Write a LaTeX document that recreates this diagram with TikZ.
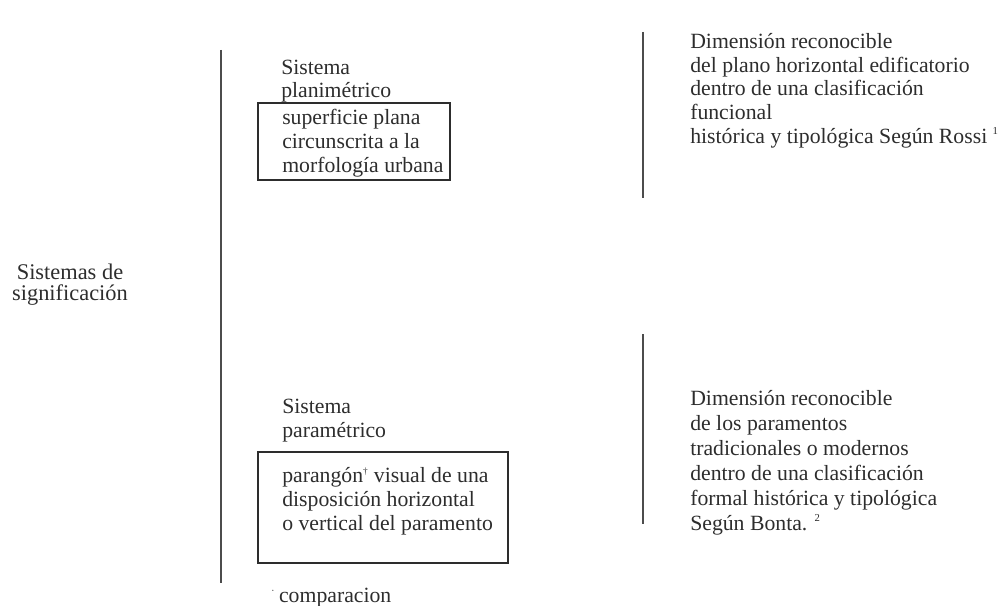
\documentclass[tikz,border=0pt]{standalone}
\usepackage{fontspec}
\setmainfont{Liberation Serif}
\usetikzlibrary{positioning}

\definecolor{ink}{RGB}{45,45,45}
\tikzset{
  txt/.style={anchor=base west, inner sep=0pt, align=left, text=ink,
    font=\fontsize{16.3}{17.7}\selectfont},
  caja/.style={draw=ink, line width=0.9pt},
  raya/.style={draw=ink!85, line width=1.6pt}
}

\begin{document}
\begin{tikzpicture}[x=0.75pt, y=-0.75pt]
    % lienzo
    \useasboundingbox (0,0) rectangle (1002,606);

    % extremos de las rayas verticales
    \coordinate (L1) at (221,50);
    \coordinate (L2) at (221,583);
    \coordinate (R1) at (643,32);
    \coordinate (R2) at (643,198);
    \coordinate (S1) at (643,334);
    \coordinate (S2) at (643,524);

    % rayas
    \draw[raya] (L1) -- (L2);
    \draw[raya] (R1) -- (R2);
    \draw[raya] (S1) -- (S2);

    % titulo de la izquierda (anclado en la ultima linea)
    \node[txt, align=center, anchor=base, font=\fontsize{16.8}{15.5}\selectfont] (titulo) at (70,300) {Sistemas de\\significación};

    % === sistema planimetrico ===
    \node[txt] (plani) at (281,98) {Sistema\\planimétrico};
    \draw[caja] (258,103) rectangle (450,180);
    \node[txt] (planitxt) at (282,172) {superficie plana\\circunscrita a la\\morfología urbana};

    \node[txt] (rossi) at (690,143) {Dimensión reconocible\\del plano horizontal edificatorio\\dentro de una clasificación\\funcional\\histórica y tipológica Según Rossi \textsuperscript{\footnotesize 1}};

    % === sistema parametrico ===
    \node[txt] (param) at (282,437) {Sistema\\paramétrico};
    \draw[caja] (258,452) rectangle (508,563);
    \node[txt] (paramtxt) at (282,530) {parangón\textsuperscript{\scriptsize\textdagger} visual de una\\disposición horizontal\\o vertical del paramento};

    \node[txt, font=\fontsize{16.3}{18.75}\selectfont] (bonta) at (690,530) {Dimensión reconocible\\de los paramentos\\tradicionales o modernos\\dentro de una clasificación\\formal histórica y tipológica\\Según Bonta. \textsuperscript{\footnotesize 2}};

    % nota al pie
    \node[txt] (nota) at (271,602) {\textsuperscript{\footnotesize$\cdot$}\kern3pt comparacion};
\end{tikzpicture}
\end{document}
